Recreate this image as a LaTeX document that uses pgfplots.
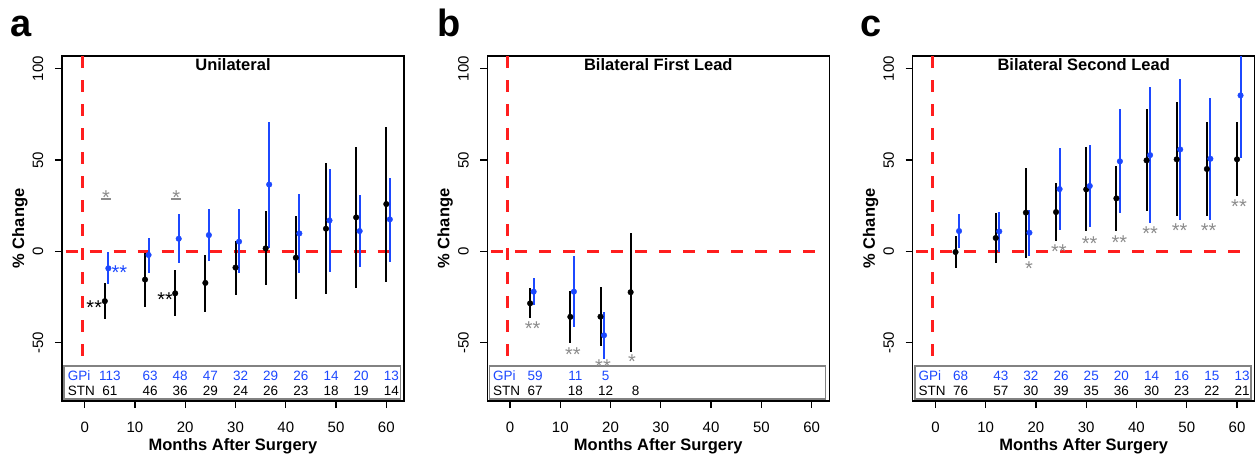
\documentclass[border=0pt]{standalone}
\usepackage{fontspec}
\setmainfont{Liberation Sans}
\usepackage{pgfplots}
\pgfplotsset{compat=1.18}
\usepackage{pgfplotstable}

\definecolor{gpiblue}{RGB}{28,72,255}
\definecolor{astgray}{RGB}{140,140,140}
\definecolor{refred}{RGB}{255,30,30}
\definecolor{boxgray}{RGB}{130,130,130}

% columns: month, mean % change, upper and lower ends of the interval
\pgfplotstableread{
x   y     hi    lo
4   -27.3 -17.5 -37.3
12  -15.5 -1.0  -30.6
18  -23.0 -10.2 -35.7
24  -17.3 -1.8  -33.0
30  -8.9  5.8   -24.0
36  1.6   21.9  -18.6
42  -3.5  19.3  -26.0
48  12.4  48.3  -23.3
54  18.6  57.4  -20.2
60  25.9  68.1  -16.6
}\stnA
\pgfplotstableread{
x    y     hi    lo
4.7  -9.3  -0.5  -18.0
12.7 -2.0  7.5   -11.7
18.7 6.9   20.4  -6.4
24.7 8.9   23.0  -5.1
30.7 5.3   23.0  -12.0
36.7 36.6  70.7  1.8
42.7 9.8   31.5  -12.0
48.7 16.9  45.0  -11.1
54.7 11.1  31.0  -8.7
60.7 17.5  40.3  -5.6
}\gpiA
\pgfplotstableread{
x   y     hi    lo
4   -28.5 -20.3 -36.7
12  -35.9 -21.5 -50.2
18  -35.8 -19.3 -52.0
24  -22.4 10.0  -54.9
}\stnB
\pgfplotstableread{
x    y     hi    lo
4.7  -22.1 -14.4 -29.6
12.7 -22.1 -2.4  -41.6
18.7 -46.0 -33.0 -59.0
}\gpiB
\pgfplotstableread{
x   y     hi    lo
4   -0.4  8.6   -9.3
12  7.3   21.0  -6.6
18  21.2  45.6  -3.6
24  21.5  37.2  5.8
30  33.9  57.3  10.9
36  29.0  46.9  11.3
42  49.8  77.7  21.9
48  50.4  81.6  19.2
54  45.1  70.6  19.2
60  50.4  70.8  30.1
}\stnC
\pgfplotstableread{
x    y     hi    lo
4.7  11.1  20.3  2.0
12.7 10.9  21.7  -0.2
18.7 10.2  22.6  -2.4
24.7 34.1  56.4  11.7
30.7 35.8  58.0  13.1
36.7 49.3  77.9  20.8
42.7 52.7  89.8  15.5
48.7 55.8  94.3  17.3
54.7 50.7  83.8  17.3
60.7 85.4  115.0 51.1
}\gpiC

\pgfplotsset{
  dbs/.style={
    scale only axis, width=342pt, height=345pt,
    xmin=-4.52, xmax=63.52, ymin=-82, ymax=107,
    xtick={0,10,...,60}, ytick={-50,0,50,100},
    xticklabels={}, yticklabels={},
    tick align=outside, tick pos=left, major tick length=7pt,
    axis line style={line width=1.2pt},
    tick style={line width=1.2pt, black},
    label style={font=\bfseries\fontsize{16.5}{16.5}\selectfont},
    xlabel={Months After Surgery},
    ylabel={\% Change},
    xlabel style={at={(axis description cs:0.5,-0.144)}, anchor=base},
    ylabel style={at={(axis description cs:-0.111,0.5)}, anchor=base},
    title style={at={(axis description cs:0.5,0.94)}, anchor=base,
      font=\bfseries\fontsize{16.5}{16.5}\selectfont},
    anchor=south west, clip=false,
  },
  refline/.style={refred, line width=3pt, dash pattern=on 12pt off 12pt},
  stn/.style={black, only marks, mark=*, mark size=2.8pt,
    error bars/.cd, y dir=both, y explicit, error mark=none,
    error bar style={line width=2pt, black}},
  gpi/.style={gpiblue, only marks, mark=*, mark size=2.8pt,
    error bars/.cd, y dir=both, y explicit, error mark=none,
    error bar style={line width=2pt, gpiblue}},
}
\tikzset{
  tl/.style={font=\fontsize{15}{15}\selectfont, inner sep=0pt, anchor=base},
  ytl/.style={tl, rotate=90},
  ast/.style={font=\fontsize{20}{20}\selectfont, inner sep=0pt, anchor=base, yshift=-11.5pt},
  ncell/.style={font=\fontsize{13.5}{13.5}\selectfont, inner sep=0pt, anchor=base},
  tbox/.style={draw=boxgray, line width=1.6pt, fill=white},
  letter/.style={font=\bfseries\fontsize{38}{38}\selectfont, inner sep=0pt, anchor=base west},
}
% tick numbers, set in the text font like R's axis()
\newcommand\Ticklabels{%
  \node[tl] at ([yshift=-31.3pt]axis cs:0,-82) {0};
  \node[tl] at ([yshift=-31.3pt]axis cs:10,-82) {10};
  \node[tl] at ([yshift=-31.3pt]axis cs:20,-82) {20};
  \node[tl] at ([yshift=-31.3pt]axis cs:30,-82) {30};
  \node[tl] at ([yshift=-31.3pt]axis cs:40,-82) {40};
  \node[tl] at ([yshift=-31.3pt]axis cs:50,-82) {50};
  \node[tl] at ([yshift=-31.3pt]axis cs:60,-82) {60};
  \node[ytl] at ([xshift=-18.8pt]axis cs:-4.52,-50) {-50};
  \node[ytl] at ([xshift=-18.8pt]axis cs:-4.52,0) {0};
  \node[ytl] at ([xshift=-18.8pt]axis cs:-4.52,50) {50};
  \node[ytl] at ([xshift=-18.8pt]axis cs:-4.52,100) {100};}
\newcommand\Ncol[3]{%
  \node[ncell, text=gpiblue] at (axis cs:#1,-70.6) {#2};
  \node[ncell] at (axis cs:#1,-79.2) {#3};}
\newcommand\Nonly[2]{%
  \node[ncell] at (axis cs:#1,-79.2) {#2};}
\newcommand\Rowlabels{%
  \node[ncell, anchor=base west, text=gpiblue] at (axis cs:-3.4,-70.6) {GPi};
  \node[ncell, anchor=base west] at (axis cs:-3.4,-79.2) {STN};}
\newcommand\Refs{%
  \addplot[refline] coordinates {(-0.5,107) (-0.5,-62)};
  \addplot[refline] coordinates {(-3.78,0) (62.78,0)};
  \draw[tbox] (axis cs:-4.12,-62.8) rectangle (axis cs:62.8,-80.9);}
% the axis does not clip (tick numbers sit outside it), so bars are cut here
\newcommand\Series[2]{%
  \begin{scope}
  \clip (axis cs:-4.52,-82) rectangle (axis cs:63.52,107);
  \addplot[stn] table[x=x, y=y, y error plus expr=\thisrow{hi}-\thisrow{y},
    y error minus expr=\thisrow{y}-\thisrow{lo}] {#1};
  \addplot[gpi] table[x=x, y=y, y error plus expr=\thisrow{hi}-\thisrow{y},
    y error minus expr=\thisrow{y}-\thisrow{lo}] {#2};
  \end{scope}}
% gray star with a short bar under it
\newcommand\Ustar[2]{%
  \node[ast, text=astgray] at (axis cs:#1,#2) {*};
  \draw[astgray, line width=1.4pt] ([xshift=-5pt, yshift=-6pt]axis cs:#1,#2)
    -- ([xshift=5pt, yshift=-6pt]axis cs:#1,#2);}

\begin{document}
\begin{tikzpicture}

\begin{axis}[dbs, at={(62pt,55pt)}, title={Unilateral}]
\Refs
\Series{\stnA}{\gpiA}
\Ticklabels
\node[ast] at (axis cs:1.9,-28.1) {**};
\node[ast, text=gpiblue] at (axis cs:6.9,-9.3) {**};
\node[ast] at (axis cs:16.0,-23.7) {**};
\Ustar{4.25}{32.0}
\Ustar{18.2}{32.0}
\Rowlabels
\Ncol{5}{113}{61}
\Ncol{13}{63}{46}
\Ncol{19}{48}{36}
\Ncol{25}{47}{29}
\Ncol{31}{32}{24}
\Ncol{37}{29}{26}
\Ncol{43}{26}{23}
\Ncol{49}{14}{18}
\Ncol{55}{20}{19}
\Ncol{61}{13}{14}
\end{axis}

\begin{axis}[dbs, at={(487.3pt,55pt)}, title={Bilateral First Lead}]
\Refs
\Series{\stnB}{\gpiB}
\Ticklabels
\node[ast, text=astgray] at (axis cs:4.5,-39.8) {**};
\node[ast, text=astgray] at (axis cs:12.5,-53.8) {**};
\node[ast, text=astgray] at (axis cs:18.5,-60.8) {**};
\node[ast, text=astgray] at (axis cs:24.25,-58.0) {*};
\Rowlabels
\Ncol{5}{59}{67}
\Ncol{13}{11}{18}
\Ncol{19}{5}{12}
\Nonly{25}{8}
\end{axis}

\begin{axis}[dbs, at={(912.7pt,55pt)}, title={Bilateral Second Lead}]
\Refs
\Series{\stnC}{\gpiC}
\Ticklabels
\node[ast, text=astgray] at (axis cs:18.6,-6.9) {*};
\node[ast, text=astgray] at (axis cs:24.55,2.2) {**};
\node[ast, text=astgray] at (axis cs:30.7,6.9) {**};
\node[ast, text=astgray] at (axis cs:36.6,7.5) {**};
\node[ast, text=astgray] at (axis cs:42.7,12.2) {**};
\node[ast, text=astgray] at (axis cs:48.6,13.7) {**};
\node[ast, text=astgray] at (axis cs:54.35,13.7) {**};
\node[ast, text=astgray] at (axis cs:60.4,26.8) {**};
\Rowlabels
\Ncol{5}{68}{76}
\Ncol{13}{43}{57}
\Ncol{19}{32}{30}
\Ncol{25}{26}{39}
\Ncol{31}{25}{35}
\Ncol{37}{20}{36}
\Ncol{43}{14}{30}
\Ncol{49}{16}{23}
\Ncol{55}{15}{22}
\Ncol{61}{13}{21}
\end{axis}

\node[letter] at (10pt,419pt) {a};
\node[letter] at (437pt,419pt) {b};
\node[letter] at (860pt,419pt) {c};

\pgfresetboundingbox
\path (0pt,0pt) rectangle (1255pt,456pt);
\end{tikzpicture}
\end{document}
